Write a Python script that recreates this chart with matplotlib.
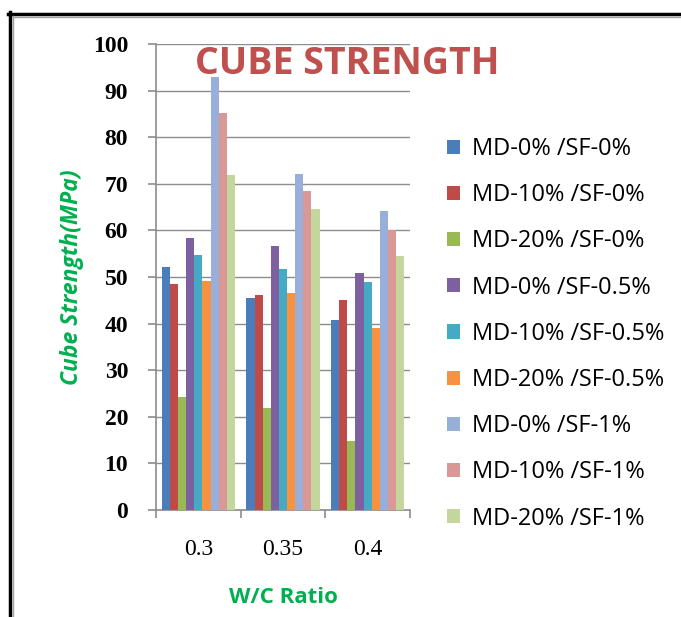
import matplotlib
matplotlib.use('Agg')
import matplotlib.pyplot as plt
from matplotlib.lines import Line2D
from matplotlib.patches import Patch
import numpy as np

# W/C ratio groups and cube strength (MPa) per mix
wc_ratio = ['0.3', '0.35', '0.4']
mixes = ['MD-0% /SF-0%', 'MD-10% /SF-0%', 'MD-20% /SF-0%',
         'MD-0% /SF-0.5%', 'MD-10% /SF-0.5%', 'MD-20% /SF-0.5%',
         'MD-0% /SF-1%', 'MD-10% /SF-1%', 'MD-20% /SF-1%']
md0_sf0 = [52.1, 45.5, 40.8]
md10_sf0 = [48.5, 46.1, 45.1]
md20_sf0 = [24.2, 21.8, 14.8]
md0_sf05 = [58.3, 56.7, 50.8]
md10_sf05 = [54.7, 51.7, 48.9]
md20_sf05 = [49.1, 46.5, 39.1]
md0_sf1 = [93.0, 72.2, 64.2]
md10_sf1 = [85.1, 68.5, 60.1]
md20_sf1 = [71.9, 64.5, 54.4]
series = [md0_sf0, md10_sf0, md20_sf0, md0_sf05, md10_sf05, md20_sf05,
          md0_sf1, md10_sf1, md20_sf1]
colors = ['#4A7EBB', '#BE4B48', '#98B954', '#7D60A0', '#46AAC5',
          '#F69240', '#97AFD9', '#D99795', '#C3D69B']

fig = plt.figure(figsize=(6.81, 6.17), dpi=100)
W, H = 681, 617
ax = fig.add_axes([156 / W, 1 - 510 / H, 254 / W, 466 / H])

x = np.arange(len(wc_ratio))
w = 0.096
for i, vals in enumerate(series):
    ax.bar(x + (i - 4) * w, vals, width=w, color=colors[i], label=mixes[i],
           zorder=3)

ax.set_xlim(-0.5, 2.5)
ax.set_ylim(0, 100)
ax.set_yticks(range(0, 101, 10))
ax.grid(axis='y', color='#8C8C8C', linewidth=1, zorder=0)
for s in ['top', 'right']:
    ax.spines[s].set_visible(False)
for s in ['left', 'bottom']:
    ax.spines[s].set_color('#8C8C8C')
    ax.spines[s].set_linewidth(1.2)

ax.set_xticks([-0.5, 0.5, 1.5, 2.5])
ax.set_xticklabels([])
ax.set_xticks(x, minor=True)
ax.set_xticklabels(wc_ratio, minor=True, family='Liberation Serif', fontsize=17)
ax.tick_params(axis='x', which='minor', length=0, pad=21)
ax.tick_params(axis='x', which='major', length=6, color='#8C8C8C', width=1.2)
ax.tick_params(axis='y', length=6, color='#8C8C8C', width=1.2, pad=14)
for t in ax.get_yticklabels():
    t.set_family('Liberation Serif')
    t.set_fontweight('bold')
    t.set_fontsize(17)

ax.set_xlabel('W/C Ratio', family='Open Sans', fontweight='bold', fontsize=16,
              color='#00B050')
ax.xaxis.set_label_coords(0.5, -0.165)
ax.set_ylabel('Cube Strength(MPa)', family='Open Sans', fontweight='bold',
              style='italic', fontsize=16.5, color='#00B050')
ax.yaxis.set_label_coords(-0.285, 0.5)

fig.text(347 / W, 1 - 64 / H, 'CUBE STRENGTH', family='Open Sans',
         fontweight='bold', fontsize=27, color='#C0504D',
         ha='center', va='center')

handles = [Patch(facecolor=c) for c in colors]
fig.legend(handles, mixes, loc='upper left',
           bbox_to_anchor=(447 / W, 1 - 137 / H), frameon=False,
           prop={'family': 'Open Sans', 'size': 17},
           handlelength=0.55, handleheight=0.55, handletextpad=0.5,
           labelspacing=0.94, borderpad=0, borderaxespad=0)

# outer frame of the pasted chart
fig.add_artist(Line2D([9.5 / W, 9.5 / W], [0, 1 - 12 / H], color='black',
                      linewidth=2.5, transform=fig.transFigure))
fig.add_artist(Line2D([8 / W, 1], [1 - 13.5 / H, 1 - 13.5 / H], color='black',
                      linewidth=2.5, transform=fig.transFigure))
fig.add_artist(Line2D([13 / W, 13 / W], [0, 1 - 16 / H], color='#A0A0A0',
                      linewidth=1, transform=fig.transFigure))
fig.add_artist(Line2D([13 / W, 1], [1 - 16.5 / H, 1 - 16.5 / H],
                      color='#A0A0A0', linewidth=1, transform=fig.transFigure))

fig.savefig('out.png', dpi=100)
